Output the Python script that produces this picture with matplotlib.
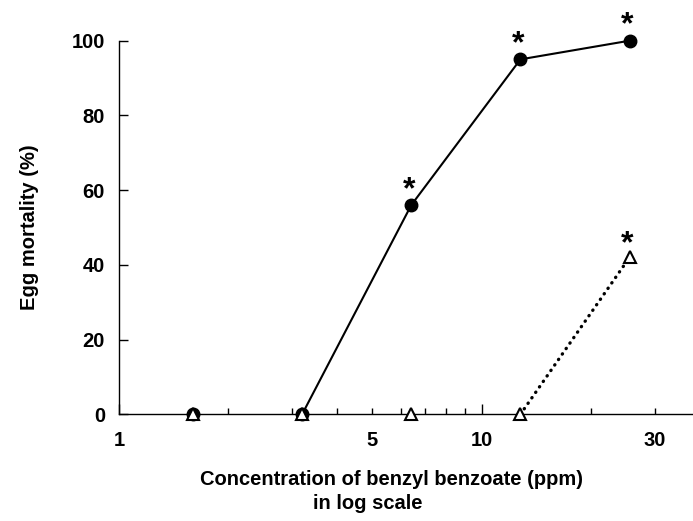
"""
Egg mortality vs benzyl benzoate concentration (log x axis)
"""

import matplotlib
matplotlib.use("Agg")
import matplotlib.pyplot as plt

plt.rcParams["font.family"] = ["Liberation Sans", "DejaVu Sans"]
plt.rcParams["font.weight"] = "bold"

# ─── data ───────────────────────────────────────────────────────────────
conc     = [1.6, 3.2, 6.4, 12.8, 25.6]          # ppm
mort_a   = [0, 0, 56, 95, 100]                  # filled circles
mort_b   = [0, 0, 0, 0, 42]                     # open triangles
signif_a = [False, False, True, True, True]     # asterisks
signif_b = [False, False, False, False, True]

y_ticks       = [0, 20, 40, 60, 80, 100]
x_major       = [1, 10]
x_major_lbl   = ["1", "10"]
x_minor       = [2, 3, 4, 5, 6, 7, 8, 9, 20, 30]
x_minor_lbl   = ["", "", "", "5", "", "", "", "", "", "30"]
# ────────────────────────────────────────────────────────────────────────

fig = plt.figure(figsize=(6.93, 5.21), dpi=100)
ax = fig.add_axes([0.1717, 0.2048, 0.8283, 0.7171])

ax.set_xscale("log")
ax.set_xlim(1, 38.3)
ax.set_ylim(0, 100)

# lines first, markers on top
ax.plot(conc[1:], mort_a[1:], color="black", lw=1.5, zorder=3, clip_on=False)
ax.plot(conc[3:], mort_b[3:], color="black", lw=2.4,
        linestyle=(0, (0.1, 1.9)), dash_capstyle="round", zorder=3, clip_on=False)
ax.plot(conc, mort_a, linestyle="none", marker="o", ms=9,
        mfc="black", mec="black", zorder=4, clip_on=False)
ax.plot(conc, mort_b, linestyle="none", marker="^", ms=8, mew=1.5,
        mfc="white", mec="black", zorder=5, clip_on=False)

for x, y, s in zip(conc, mort_a, signif_a):
    if s:
        ax.annotate("*", xy=(x, y), xytext=(-1.5, 5), textcoords="offset points",
                    ha="center", va="baseline", fontsize=23, fontweight="bold")
for x, y, s in zip(conc, mort_b, signif_b):
    if s:
        ax.annotate("*", xy=(x, y), xytext=(-1.5, 3.5), textcoords="offset points",
                    ha="center", va="baseline", fontsize=23, fontweight="bold")

# axes styling
for side in ("top", "right"):
    ax.spines[side].set_visible(False)
for side in ("left", "bottom"):
    ax.spines[side].set_linewidth(1.0)

ax.set_yticks(y_ticks)
ax.set_xticks(x_major, labels=x_major_lbl)
ax.set_xticks(x_minor, labels=x_minor_lbl, minor=True)

ax.tick_params(axis="y", direction="in", length=6.5, width=1, pad=10, labelsize=14.5)
ax.tick_params(axis="x", which="major", direction="in", length=7, width=1,
               pad=12, labelsize=14.5)
ax.tick_params(axis="x", which="minor", direction="in", length=4, width=1,
               pad=12, labelsize=14.5)

ax.set_ylabel("Egg mortality (%)", fontsize=14.5, fontweight="bold")
ax.yaxis.set_label_coords(-0.139, 0.5)

fig.text(392 / 693, 1 - 485 / 521, "Concentration of benzyl benzoate (ppm)",
         ha="center", va="baseline", fontsize=14.5, fontweight="bold")
fig.text(368 / 693, 1 - 509 / 521, "in log scale",
         ha="center", va="baseline", fontsize=14.5, fontweight="bold")

fig.savefig("out.png", dpi=100)
